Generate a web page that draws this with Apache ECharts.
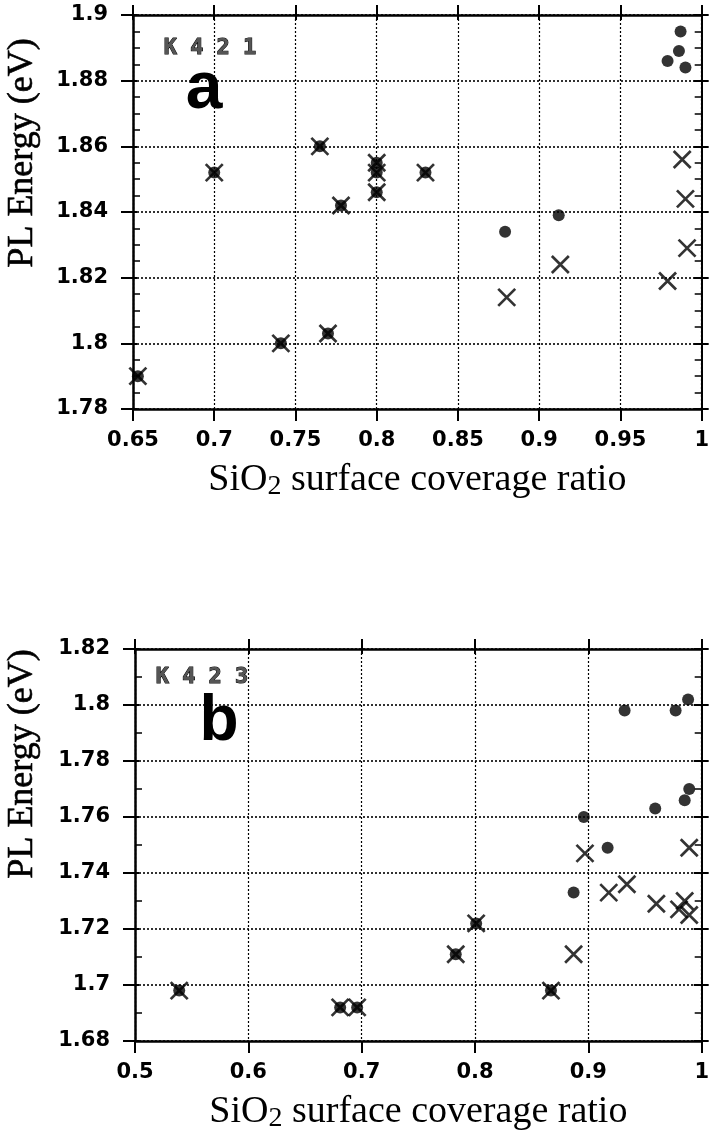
<!DOCTYPE html>
<html>
<head>
<meta charset="utf-8">
<script src="https://cdn.jsdelivr.net/npm/echarts@6/dist/echarts.min.js"></script>
<style>
  html, body { margin: 0; padding: 0; background: #fff; }
  #c { width: 712px; height: 1137px; }
</style>
</head>
<body>
<div id="c"></div>
<script>
// Panel a — sample K421: PL peak energy vs SiO2 surface coverage
const k421Dots = [
  [0.653, 1.790], [0.700, 1.852], [0.741, 1.800], [0.770, 1.803], [0.765, 1.860],
  [0.778, 1.842], [0.800, 1.855], [0.800, 1.852], [0.800, 1.846], [0.830, 1.852],
  [0.879, 1.834], [0.912, 1.839], [0.987, 1.895], [0.986, 1.889], [0.979, 1.886],
  [0.990, 1.884]
];
const k421Crosses = [
  [0.653, 1.790], [0.700, 1.852], [0.741, 1.800], [0.770, 1.803], [0.765, 1.860],
  [0.778, 1.842], [0.800, 1.855], [0.800, 1.852], [0.800, 1.846], [0.830, 1.852],
  [0.880, 1.814], [0.913, 1.824], [0.979, 1.819], [0.991, 1.829], [0.988, 1.856],
  [0.990, 1.844]
];
// Panel b — sample K423
const k423Dots = [
  [0.539, 1.698], [0.681, 1.692], [0.696, 1.692], [0.783, 1.711], [0.801, 1.722],
  [0.867, 1.698], [0.887, 1.733], [0.896, 1.760], [0.917, 1.749], [0.959, 1.763],
  [0.985, 1.766], [0.989, 1.770], [0.932, 1.798], [0.977, 1.798], [0.988, 1.802]
];
const k423Crosses = [
  [0.539, 1.698], [0.681, 1.692], [0.696, 1.692], [0.783, 1.711], [0.801, 1.722],
  [0.867, 1.698], [0.887, 1.711], [0.897, 1.747], [0.918, 1.733], [0.934, 1.736],
  [0.960, 1.729], [0.980, 1.727], [0.985, 1.730], [0.989, 1.725], [0.989, 1.749]
];

// Axis ranges: [min, max, step]
const xRangeA = [0.65, 1.0, 0.05];
const yRangeA = [1.78, 1.90, 0.02];
const xRangeB = [0.5, 1.0, 0.1];
const yRangeB = [1.68, 1.82, 0.02];

const panelLetters = ['a', 'b'];
const sampleNames = ['K 4 2 1', 'K 4 2 3'];
const xTitle = '{m|SiO}{s|2}{m| surface coverage ratio}';
const yTitle = 'PL Energy (eV)';

const TICK_FONT = 'DejaVu Sans';
const TITLE_FONT = 'Liberation Serif';
const fmt = v => String(+v.toFixed(3));

function xAxesFor(gi, r) {
  const base = { type: 'value', gridIndex: gi, min: r[0], max: r[1], interval: r[2] };
  return [
    Object.assign({}, base, {
      position: 'bottom',
      axisLine: { show: true, onZero: false, lineStyle: { color: '#000', width: 2.5 } },
      axisTick: { show: true, inside: false, length: 12, lineStyle: { color: '#000', width: 2 } },
      axisLabel: { show: true, margin: 21, color: '#000', fontFamily: TICK_FONT, fontWeight: 'bold', fontSize: 21, formatter: fmt },
      splitLine: { show: true, lineStyle: { color: '#000', width: 1.2, type: [2, 2] } },
      name: xTitle, nameLocation: 'middle', nameGap: 50,
      nameTextStyle: {
        color: '#000', fontFamily: TITLE_FONT, fontSize: 38,
        rich: {
          m: { fontFamily: TITLE_FONT, fontSize: 38, color: '#000' },
          s: { fontFamily: TITLE_FONT, fontSize: 28, color: '#000', padding: [14, 0, 0, 0] }
        }
      }
    }),
    Object.assign({}, base, {
      position: 'top',
      axisLine: { show: true, onZero: false, lineStyle: { color: '#000', width: 2.5 } },
      axisTick: { show: true, inside: false, length: 10, lineStyle: { color: '#000', width: 2 } },
      axisLabel: { show: false }, splitLine: { show: false }
    }),
    Object.assign({}, base, {
      position: 'top',
      axisLine: { show: false },
      axisTick: { show: true, inside: true, length: 5, lineStyle: { color: '#000', width: 2 } },
      axisLabel: { show: false }, splitLine: { show: false }
    })
  ];
}

function yAxesFor(gi, r, minorSplit) {
  const base = { type: 'value', gridIndex: gi, min: r[0], max: r[1], interval: r[2] };
  const minor = { show: true, splitNumber: minorSplit, length: 7, lineStyle: { color: '#000', width: 1.5 } };
  return [
    Object.assign({}, base, {
      position: 'left',
      axisLine: { show: true, onZero: false, lineStyle: { color: '#000', width: 2.5 } },
      axisTick: { show: true, inside: true, length: 4, lineStyle: { color: '#000', width: 2 } },
      minorTick: minor,
      axisLabel: { show: true, margin: 25, color: '#000', fontFamily: TICK_FONT, fontWeight: 'bold', fontSize: 21, formatter: fmt },
      splitLine: { show: true, lineStyle: { color: '#000', width: 1.6, type: [2, 2] } }
    }),
    Object.assign({}, base, {
      position: 'left',
      axisLine: { show: false },
      axisTick: { show: true, inside: false, length: 12, lineStyle: { color: '#000', width: 2 } },
      axisLabel: { show: false }, splitLine: { show: false }
    }),
    Object.assign({}, base, {
      position: 'right',
      axisLine: { show: true, onZero: false, lineStyle: { color: '#000', width: 2 } },
      axisTick: { show: true, inside: true, length: 8, lineStyle: { color: '#000', width: 2 } },
      minorTick: minor,
      axisLabel: { show: false }, splitLine: { show: false }
    }),
    Object.assign({}, base, {
      position: 'right',
      axisLine: { show: false },
      axisTick: { show: true, inside: false, length: 7, lineStyle: { color: '#000', width: 2 } },
      axisLabel: { show: false }, splitLine: { show: false }
    })
  ];
}

const CROSS = 'path://M0,0L10,10M10,0L0,10';

function dotSeries(data, gi) {
  return {
    type: 'scatter', xAxisIndex: gi * 3, yAxisIndex: gi * 4, data: data,
    symbol: 'circle', symbolSize: 12,
    itemStyle: { color: '#000' }, emphasis: { disabled: true }, z: 3
  };
}
function crossSeries(data, gi) {
  return {
    type: 'scatter', xAxisIndex: gi * 3, yAxisIndex: gi * 4, data: data,
    symbol: CROSS, symbolSize: 17,
    itemStyle: { color: 'transparent', borderColor: '#000', borderWidth: 2.7 },
    emphasis: { disabled: true }, z: 4
  };
}

function label(text, x, y, font, extra) {
  return {
    type: 'text', x: x, y: y, silent: true,
    style: Object.assign({ text: text, font: font, fill: '#000', align: 'center', verticalAlign: 'middle' }, extra || {})
  };
}

const option = {
  animation: false,
  backgroundColor: '#fff',
  grid: [
    { left: 133, top: 15, width: 572, height: 394 },
    { left: 135, top: 649, width: 570, height: 392 }
  ],
  xAxis: [].concat(xAxesFor(0, xRangeA), xAxesFor(1, xRangeB)),
  yAxis: [].concat(yAxesFor(0, yRangeA, 4), yAxesFor(1, yRangeB, 2)),
  series: [
    dotSeries(k421Dots, 0), crossSeries(k421Crosses, 0),
    dotSeries(k423Dots, 1), crossSeries(k423Crosses, 1)
  ],
  graphic: [
    Object.assign(label(yTitle, 23, 153, '36px "Liberation Serif"', { stroke: '#000', lineWidth: 0.6 }), { rotation: Math.PI / 2 }),
    Object.assign(label(yTitle, 23, 764, '36px "Liberation Serif"', { stroke: '#000', lineWidth: 0.6 }), { rotation: Math.PI / 2 }),
    label(panelLetters[0], 204, 90, 'bold 66px "Liberation Sans"'),
    label(panelLetters[1], 219, 722, 'bold 64px "Liberation Sans"'),
    label(sampleNames[0], 210, 48, 'bold 22px "DejaVu Sans Mono"', { fill: '#555', stroke: '#000', lineWidth: 1 }),
    label(sampleNames[1], 202, 677, 'bold 22px "DejaVu Sans Mono"', { fill: '#555', stroke: '#000', lineWidth: 1 })
  ]
};

const chart = echarts.init(document.getElementById('c'), null, { renderer: 'canvas' });
chart.setOption(option);
</script>
</body>
</html>
